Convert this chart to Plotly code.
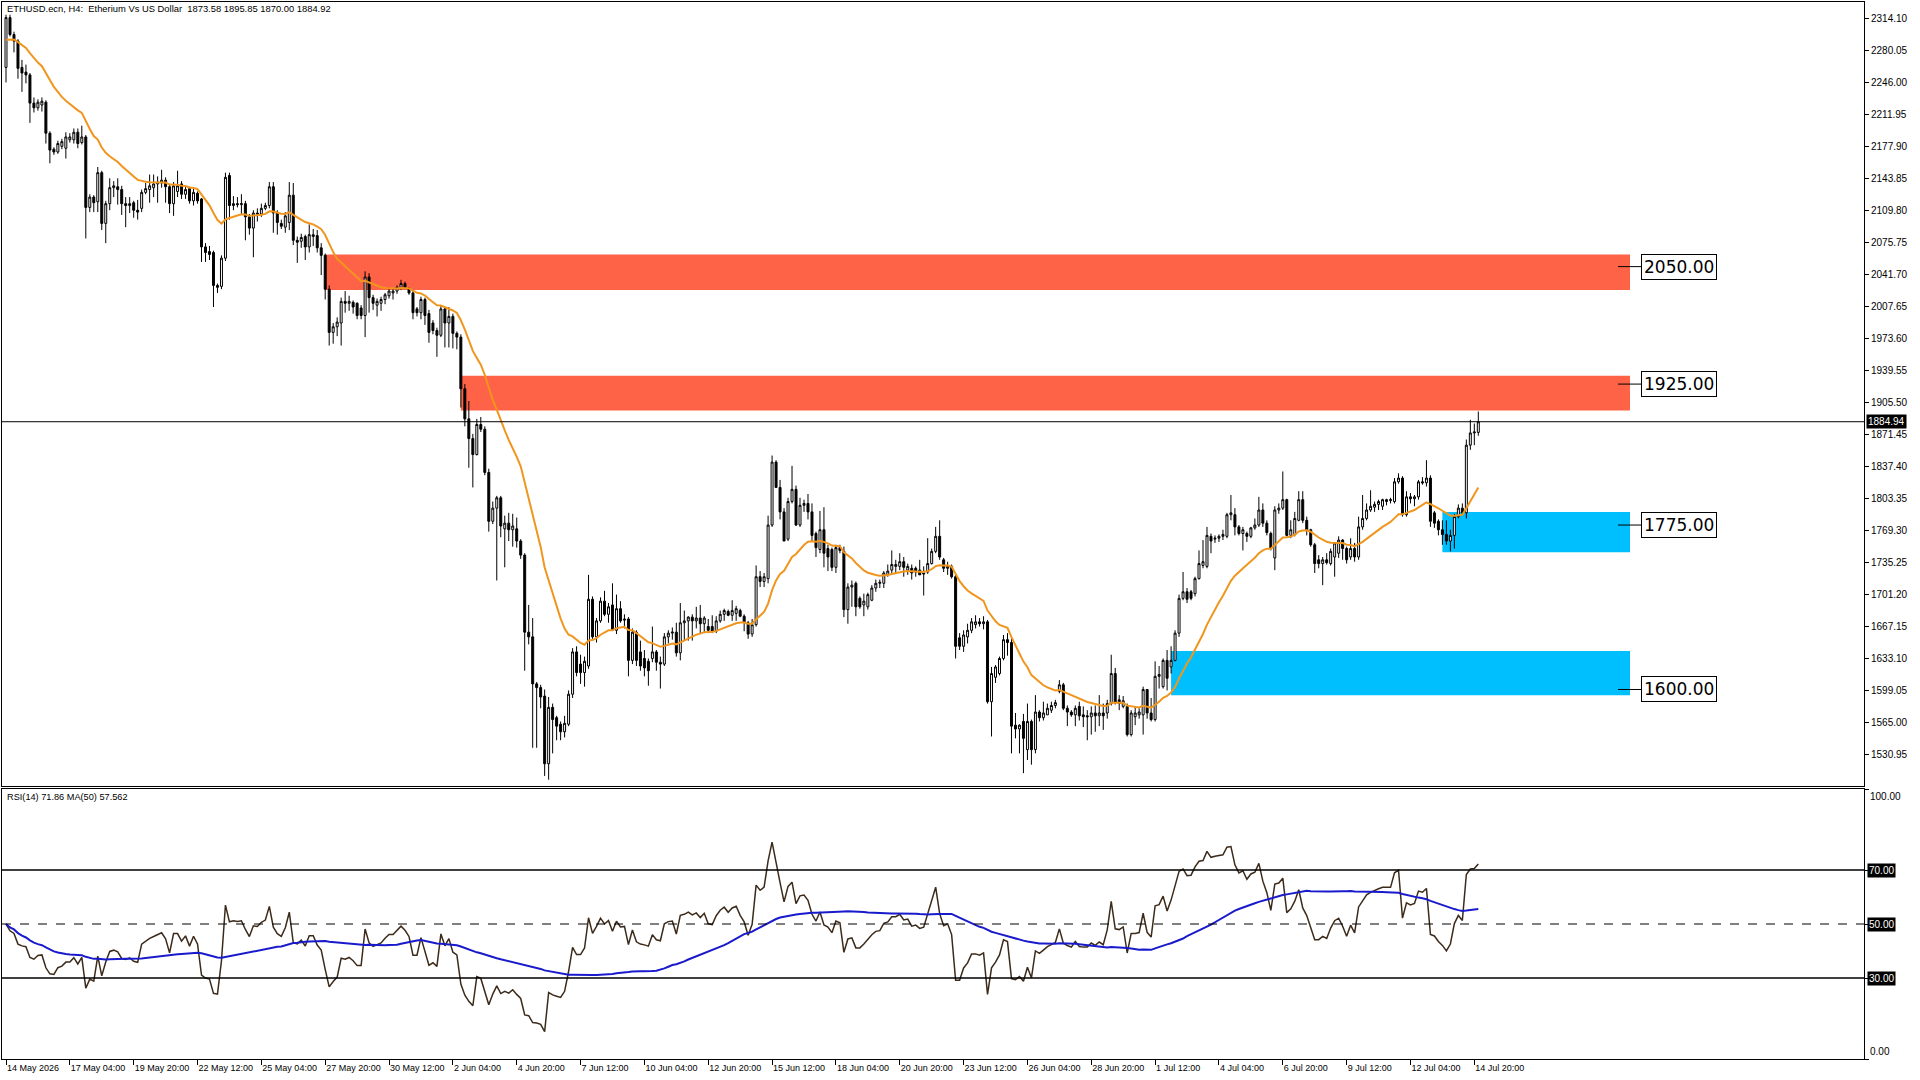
import numpy as np
import pandas as pd
import plotly.graph_objects as go

# ---------------- data ----------------
opens = [
 2262,2315,2297,2290,2262,2257,2254,2224,2219,2222,
 2225,2192,2175,2172,2178,2176,2185,2185,2193,2182,
 2188,2113,2124,2119,2150,2096,2117,2134,2135,2132,
 2117,2115,2118,2110,2112,2129,2132,2134,2138,2139,
 2142,2135,2117,2130,2138,2127,2133,2120,2128,2122,
 2071,2066,2065,2030,2029,2059,2147,2115,2117,2116,
 2117,2103,2091,2107,2106,2112,2115,2135,2107,2096,
 2092,2097,2126,2078,2077,2082,2071,2082,2083,2070,
 2062,2026,1980,1986,1990,2013,2011,2012,2011,2006,
 1998,2039,2017,2009,2011,2015,2019,2022,2024,2028,
 2032,2026,2022,2005,2001,2015,2000,1990,1982,1977,
 2005,1990,1997,1979,1975,1920,1888,1867,1850,1882,
 1877,1831,1779,1793,1804,1771,1777,1770,1771,1758,
 1743,1661,1656,1606,1602,1593,1521,1581,1570,1563,
 1555,1563,1595,1640,1627,1618,1625,1696,1656,1673,
 1694,1680,1690,1663,1686,1675,1675,1631,1661,1640,
 1633,1630,1633,1640,1629,1627,1656,1660,1661,1639,
 1671,1673,1677,1673,1676,1670,1667,1667,1662,1673,
 1680,1683,1679,1681,1684,1678,1671,1659,1669,1720,
 1715,1718,1775,1842,1815,1789,1760,1800,1813,1775,
 1796,1798,1789,1766,1749,1770,1750,1749,1730,1751,
 1747,1685,1709,1713,1697,1690,1688,1695,1708,1713,
 1713,1722,1727,1731,1731,1736,1727,1729,1729,1727,
 1724,1725,1734,1747,1763,1738,1729,1731,1720,1655,
 1646,1656,1663,1669,1672,1670,1672,1587,1613,1617,
 1633,1653,1650,1562,1558,1566,1536,1566,1536,1576,
 1570,1573,1578,1583,1598,1605,1580,1576,1573,1582,
 1573,1572,1571,1575,1572,1575,1575,1585,1617,1589,
 1582,1582,1552,1571,1573,1573,1600,1575,1568,1614,
 1603,1631,1624,1631,1660,1697,1704,1704,1702,1718,
 1732,1731,1763,1760,1761,1763,1763,1786,1786,1773,
 1766,1766,1763,1772,1775,1791,1777,1766,1740,1791,
 1793,1802,1764,1765,1780,1802,1780,1770,1754,1738,
 1734,1738,1734,1741,1745,1759,1750,1741,1750,1741,
 1773,1782,1791,1794,1797,1795,1800,1801,1800,1821,
 1825,1786,1805,1803,1805,1821,1820,1825,1788,1779,
 1770,1765,1758,1764,1784,1793,1788,1860,1873,1873.58,
]
highs = [
 2318,2318,2300,2292,2270,2265,2256,2230,2228,2230,
 2227,2194,2177,2184,2186,2193,2192,2197,2197,2200,
 2190,2127,2126,2156,2152,2120,2144,2141,2144,2136,
 2124,2124,2120,2121,2132,2139,2148,2148,2146,2153,
 2145,2138,2140,2152,2141,2136,2135,2133,2130,2123,
 2075,2072,2067,2032,2062,2150,2150,2125,2124,2127,
 2120,2106,2110,2112,2117,2118,2140,2140,2110,2100,
 2108,2140,2139,2082,2085,2084,2095,2090,2089,2075,
 2064,2030,1990,1996,2017,2024,2019,2014,2012,2009,
 2045,2043,2020,2016,2018,2022,2028,2027,2030,2036,
 2034,2028,2024,2007,2018,2017,2004,1993,1985,2009,
 2007,2007,2000,1981,1978,1925,1907,1872,1888,1890,
 1880,1835,1800,1806,1806,1785,1788,1787,1783,1760,
 1745,1690,1676,1608,1605,1600,1592,1585,1572,1566,
 1572,1599,1644,1646,1637,1635,1722,1699,1676,1698,
 1705,1692,1713,1701,1694,1680,1677,1665,1663,1652,
 1642,1633,1667,1642,1635,1660,1663,1666,1671,1692,
 1684,1678,1680,1688,1690,1678,1675,1679,1678,1684,
 1686,1685,1695,1689,1686,1680,1673,1675,1732,1726,
 1724,1785,1849,1844,1823,1793,1804,1838,1817,1804,
 1802,1808,1798,1768,1790,1794,1754,1751,1754,1754,
 1752,1713,1716,1715,1699,1702,1703,1711,1717,1717,
 1726,1733,1748,1738,1745,1741,1734,1733,1731,1738,
 1731,1761,1750,1773,1780,1740,1736,1733,1722,1660,
 1663,1670,1676,1679,1676,1678,1674,1624,1626,1635,
 1658,1660,1654,1575,1563,1574,1585,1568,1594,1578,
 1587,1585,1587,1589,1610,1607,1583,1578,1583,1587,
 1582,1578,1582,1583,1594,1585,1589,1637,1623,1594,
 1593,1585,1578,1582,1580,1603,1600,1591,1630,1625,
 1633,1642,1646,1663,1701,1725,1708,1706,1720,1748,
 1759,1773,1766,1764,1765,1770,1788,1807,1793,1775,
 1773,1768,1773,1782,1805,1798,1780,1768,1795,1798,
 1832,1803,1780,1789,1811,1811,1784,1771,1756,1743,
 1741,1745,1750,1757,1763,1760,1752,1761,1756,1784,
 1807,1798,1812,1800,1802,1803,1803,1804,1825,1830,
 1827,1811,1809,1807,1823,1826,1844,1828,1790,1781,
 1780,1780,1770,1787,1797,1798,1866,1887,1883,1895.85,
]
lows = [
 2246,2295,2278,2250,2236,2245,2203,2214,2216,2215,
 2181,2160,2169,2170,2175,2165,2182,2181,2176,2180,
 2080,2108,2108,2108,2089,2075,2110,2124,2116,2105,
 2092,2107,2102,2100,2108,2127,2118,2124,2118,2134,
 2118,2107,2104,2124,2122,2122,2117,2115,2117,2055,
 2055,2057,2007,2022,2026,2056,2100,2110,2113,2106,
 2078,2084,2060,2098,2103,2110,2112,2086,2084,2090,
 2086,2089,2073,2054,2070,2057,2065,2072,2065,2041,
 2015,1966,1968,1976,1966,2001,2003,2000,1994,1994,
 1975,2001,2004,1997,2003,2010,2016,2015,2021,2025,
 2026,2020,1994,1997,1994,1988,1969,1978,1954,1975,
 1964,1964,1963,1962,1900,1880,1836,1815,1849,1874,
 1828,1768,1776,1716,1762,1730,1758,1752,1751,1739,
 1620,1648,1538,1538,1580,1508,1504,1532,1546,1546,
 1549,1561,1591,1614,1606,1603,1622,1654,1650,1671,
 1678,1671,1663,1659,1671,1665,1614,1627,1625,1620,
 1614,1604,1629,1620,1601,1625,1649,1653,1635,1631,
 1652,1652,1652,1665,1660,1660,1660,1660,1660,1671,
 1673,1678,1673,1673,1677,1662,1654,1656,1667,1709,
 1709,1713,1773,1815,1781,1758,1758,1798,1774,1773,
 1789,1781,1758,1741,1745,1730,1726,1726,1724,1745,
 1677,1670,1688,1678,1686,1678,1685,1694,1704,1708,
 1708,1720,1724,1724,1727,1720,1722,1717,1720,1722,
 1700,1723,1733,1745,1738,1725,1722,1718,1633,1642,
 1640,1649,1660,1665,1667,1664,1585,1550,1607,1615,
 1631,1636,1532,1548,1532,1511,1525,1520,1532,1566,
 1567,1573,1575,1580,1596,1578,1561,1571,1561,1567,
 1560,1546,1552,1555,1561,1557,1569,1583,1584,1578,
 1580,1550,1550,1562,1569,1552,1569,1566,1566,1601,
 1601,1599,1617,1630,1656,1695,1692,1695,1699,1717,
 1729,1729,1745,1756,1757,1759,1761,1780,1764,1764,
 1748,1757,1761,1770,1773,1773,1764,1748,1727,1787,
 1791,1763,1761,1763,1779,1777,1764,1752,1724,1729,
 1711,1733,1732,1720,1740,1738,1734,1738,1736,1738,
 1770,1780,1789,1789,1791,1791,1796,1798,1798,1819,
 1784,1784,1798,1795,1802,1818,1816,1773,1772,1764,
 1754,1754,1747,1750,1782,1786,1782,1855,1860,1870.00,
]
closes = [
 2315,2297,2290,2261,2256,2254,2224,2219,2225,2226,
 2192,2174,2172,2181,2183,2188,2188,2193,2181,2188,
 2113,2124,2118,2150,2096,2117,2134,2136,2132,2117,
 2115,2117,2110,2108,2129,2133,2136,2138,2140,2142,
 2135,2117,2136,2136,2127,2132,2120,2129,2120,2071,
 2065,2063,2030,2028,2059,2145,2115,2117,2116,2117,
 2103,2091,2107,2106,2112,2115,2135,2107,2097,2093,
 2104,2126,2078,2076,2081,2071,2084,2084,2070,2062,
 2026,1980,1986,1991,2013,2011,2013,2007,1998,1998,
 2039,2017,2011,2013,2015,2020,2024,2024,2028,2032,
 2028,2022,2001,2001,2015,1998,1980,1982,1977,2005,
 1990,1997,1979,1975,1920,1888,1867,1850,1882,1877,
 1831,1779,1793,1804,1774,1777,1770,1774,1758,1743,
 1661,1656,1606,1602,1592,1521,1581,1568,1561,1555,
 1564,1595,1640,1618,1618,1630,1696,1656,1673,1694,
 1680,1688,1663,1686,1673,1674,1631,1661,1631,1625,
 1623,1620,1640,1629,1627,1656,1660,1661,1639,1671,
 1673,1677,1673,1676,1670,1676,1663,1662,1673,1680,
 1684,1679,1684,1686,1678,1672,1659,1669,1720,1715,
 1720,1775,1842,1815,1789,1758,1800,1813,1775,1796,
 1798,1789,1764,1751,1770,1745,1741,1730,1751,1748,
 1685,1709,1711,1688,1688,1694,1701,1708,1713,1714,
 1724,1726,1733,1733,1736,1730,1731,1724,1725,1722,
 1723,1734,1747,1763,1741,1729,1731,1720,1646,1646,
 1658,1663,1672,1672,1670,1672,1587,1617,1624,1633,
 1653,1650,1561,1558,1562,1548,1566,1536,1576,1570,
 1575,1580,1583,1586,1605,1580,1576,1573,1580,1572,
 1571,1571,1575,1572,1575,1572,1585,1617,1586,1585,
 1588,1552,1575,1575,1576,1600,1575,1568,1614,1616,
 1631,1612,1631,1660,1697,1704,1696,1697,1718,1734,
 1736,1764,1758,1761,1763,1765,1786,1788,1773,1766,
 1770,1763,1772,1775,1791,1777,1767,1750,1791,1793,
 1802,1764,1770,1782,1802,1780,1770,1754,1734,1734,
 1738,1735,1747,1756,1759,1750,1738,1750,1741,1773,
 1782,1791,1795,1797,1800,1802,1802,1802,1821,1825,
 1786,1805,1803,1805,1821,1820,1825,1779,1777,1770,
 1765,1758,1764,1784,1793,1788,1860,1873,1874,1884.92,
]

time_labels = ["14 May 2026", "17 May 04:00", "19 May 20:00", "22 May 12:00", "25 May 04:00",
               "27 May 20:00", "30 May 12:00", "2 Jun 04:00", "4 Jun 20:00", "7 Jun 12:00",
               "10 Jun 04:00", "12 Jun 20:00", "15 Jun 12:00", "18 Jun 04:00", "20 Jun 20:00",
               "23 Jun 12:00", "26 Jun 04:00", "28 Jun 20:00", "1 Jul 12:00", "4 Jul 04:00",
               "6 Jul 20:00", "9 Jul 12:00", "12 Jul 04:00", "14 Jul 20:00"]
bars_per_label = 16

price_ticks = [2314.10, 2280.05, 2246.00, 2211.95, 2177.90, 2143.85, 2109.80, 2075.75,
               2041.70, 2007.65, 1973.60, 1939.55, 1905.50, 1871.45, 1837.40, 1803.35,
               1769.30, 1735.25, 1701.20, 1667.15, 1633.10, 1599.05, 1565.00, 1530.95]

zone_levels = [2050.00, 1925.00, 1775.00, 1600.00]
zone_tops = [2063, 1934, 1789, 1641]
zone_bottoms = [2025, 1897, 1746, 1594]
zone_start_bar = [80, 114, 360, 292]
zone_kind = ["sell", "sell", "buy", "buy"]

current_price = 1884.94
ma_start_value = 2289          # orange MA value read at the first bar
rsi_start_avg_move = 14        # Wilder averages at the first bar (RSI ~50 read there)
rsi_levels = [70, 50, 30]
rsi_text = "RSI(14) 71.86 MA(50) 57.562"

# ---------------- derived series ----------------
o = np.array(opens, float); c = np.array(closes, float)
h = np.maximum(np.array(highs, float), np.maximum(o, c))
l = np.minimum(np.array(lows, float), np.minimum(o, c))
n = len(c)
x = np.arange(n)

alpha = 2 / (20 + 1)
ema = []
v = ma_start_value
for ci in c:
    v = v + alpha * (ci - v)
    ema.append(v)

delta = np.diff(c, prepend=c[0])
ag = al = rsi_start_avg_move
rsi = []
for d in delta:
    g = max(d, 0); ls = max(-d, 0)
    ag = (ag * 13 + g) / 14
    al = (al * 13 + ls) / 14
    rsi.append(100 - 100 / (1 + ag / al))
rsi_ma = pd.Series(rsi).rolling(50, min_periods=1).mean().values

# ---------------- layout geometry (pixels) ----------------
W, H = 1920, 1080
PL, PR = 2, 1864            # pane left/right
MT, MB = 2, 786             # main pane top/bottom
RT, RB = 789, 1059          # rsi pane top/bottom
bar_px = 3.99
x0_px = 6
xr = [(PL - x0_px) / bar_px, (PR - x0_px) / bar_px]
price_range = [1497.3, 2331.6]
zone_end_bar = (1630 - x0_px) / bar_px

FONT = "Liberation Sans"
fig = go.Figure()

fig.add_trace(go.Candlestick(
    x=x, open=o, high=h, low=l, close=c,
    increasing=dict(line=dict(color="black", width=1), fillcolor="white"),
    decreasing=dict(line=dict(color="black", width=1), fillcolor="black"),
    whiskerwidth=0, hoverinfo="skip", showlegend=False, xaxis="x", yaxis="y"))

fig.add_trace(go.Scatter(x=x, y=ema, mode="lines", line=dict(color="#F0961E", width=2),
                         hoverinfo="skip", showlegend=False, xaxis="x", yaxis="y"))

fig.add_trace(go.Scatter(x=x, y=rsi, mode="lines", line=dict(color="#3C2A1A", width=1.5),
                         hoverinfo="skip", showlegend=False, xaxis="x2", yaxis="y2"))
fig.add_trace(go.Scatter(x=x, y=rsi_ma, mode="lines", line=dict(color="#1A1ACD", width=2),
                         hoverinfo="skip", showlegend=False, xaxis="x2", yaxis="y2"))

shapes = []
annotations = []
zone_colors = {"sell": "#FF6347", "buy": "#00BFFF"}
for lvl, top, bot, sb, kind in zip(zone_levels, zone_tops, zone_bottoms, zone_start_bar, zone_kind):
    shapes.append(dict(type="rect", xref="x", yref="y", x0=sb, x1=zone_end_bar, y0=bot, y1=top,
                       fillcolor=zone_colors[kind], line=dict(width=0), layer="below"))
    shapes.append(dict(type="line", xref="paper", yref="y", x0=1618 / W, x1=1641 / W, y0=lvl, y1=lvl,
                       line=dict(color="black", width=1)))
    annotations.append(dict(xref="paper", yref="y", x=1641 / W, y=lvl, xanchor="left", yanchor="middle",
                            text=f"{lvl:.2f}", showarrow=False, bgcolor="white", bordercolor="black",
                            borderwidth=1, borderpad=2, font=dict(family="DejaVu Sans", size=17, color="black")))

# current price line
shapes.append(dict(type="line", xref="x domain", yref="y", x0=0, x1=1, y0=current_price, y1=current_price,
                   line=dict(color="black", width=1)))
annotations.append(dict(xref="paper", yref="y", x=(PR + 2) / W, y=current_price, xanchor="left",
                        yanchor="middle", text=f"{current_price:.2f}", showarrow=False, bgcolor="black",
                        borderpad=1, font=dict(family=FONT, size=10, color="white")))

# rsi levels
for lv in rsi_levels:
    shapes.append(dict(type="line", xref="x2 domain", yref="y2", x0=0, x1=1, y0=lv, y1=lv,
                       line=dict(color="black", width=1.3 if lv != 50 else 1,
                                 dash="solid" if lv != 50 else "dash")))
    annotations.append(dict(xref="paper", yref="y2", x=(PR + 3) / W, y=lv, xanchor="left", yanchor="middle",
                            text=f"{lv:.2f}", showarrow=False, bgcolor="black", borderpad=1,
                            font=dict(family=FONT, size=10, color="white")))
annotations.append(dict(xref="paper", yref="y2", x=(PR + 4) / W, y=100, xanchor="left", yanchor="top",
                        text="100.00", showarrow=False, font=dict(family=FONT, size=10, color="black")))
annotations.append(dict(xref="paper", yref="y2", x=(PR + 4) / W, y=0, xanchor="left", yanchor="bottom",
                        text="0.00", showarrow=False, font=dict(family=FONT, size=10, color="black")))

title = (f"ETHUSD.ecn, H4:\u00a0\u00a0Etherium Vs US Dollar\u00a0\u00a0"
         f"{opens[-1]:.2f} {highs[-1]:.2f} {lows[-1]:.2f} {closes[-1]:.2f}")
annotations.append(dict(xref="paper", yref="paper", x=5 / W, y=1 - 9 / H, xanchor="left", yanchor="middle",
                        text=title, showarrow=False, font=dict(family=FONT, size=9.4, color="black")))
annotations.append(dict(xref="paper", yref="paper", x=5 / W, y=1 - 797 / H, xanchor="left", yanchor="middle",
                        text=rsi_text, showarrow=False, font=dict(family=FONT, size=9.2, color="black")))

tick_bars = [i * bars_per_label for i in range(len(time_labels))]

axis_common = dict(showgrid=False, zeroline=False, showline=True, mirror=True, linecolor="black",
                   linewidth=1, fixedrange=True, automargin=False)
fig.update_layout(
    width=W, height=H, margin=dict(l=0, r=0, t=0, b=0, autoexpand=False),
    paper_bgcolor="white", plot_bgcolor="white", showlegend=False,
    font=dict(family=FONT, size=10, color="black"),
    xaxis=dict(domain=[PL / W, PR / W], range=xr, anchor="y", showticklabels=False, ticks="",
               rangeslider=dict(visible=False), **axis_common),
    yaxis=dict(domain=[1 - MB / H, 1 - MT / H], range=price_range, anchor="x", side="right",
               tickvals=price_ticks, ticktext=[f"{t:.2f}" for t in price_ticks], ticks="outside",
               ticklen=4, tickcolor="black", tickfont=dict(family=FONT, size=10, color="black"),
               **axis_common),
    xaxis2=dict(domain=[PL / W, PR / W], range=xr, anchor="y2", tickvals=tick_bars, ticktext=time_labels,
                ticks="outside", ticklen=5, tickcolor="black", ticklabelposition="outside right",
                tickangle=0, tickfont=dict(family=FONT, size=9, color="black"), **axis_common),
    yaxis2=dict(domain=[1 - RB / H, 1 - RT / H], range=[0, 100], anchor="x2", side="right",
                tickvals=[0, 30, 50, 70, 100], showticklabels=False, ticks="outside", ticklen=4,
                tickcolor="black", **axis_common),
    shapes=shapes, annotations=annotations,
)

fig.write_html("out.html")
